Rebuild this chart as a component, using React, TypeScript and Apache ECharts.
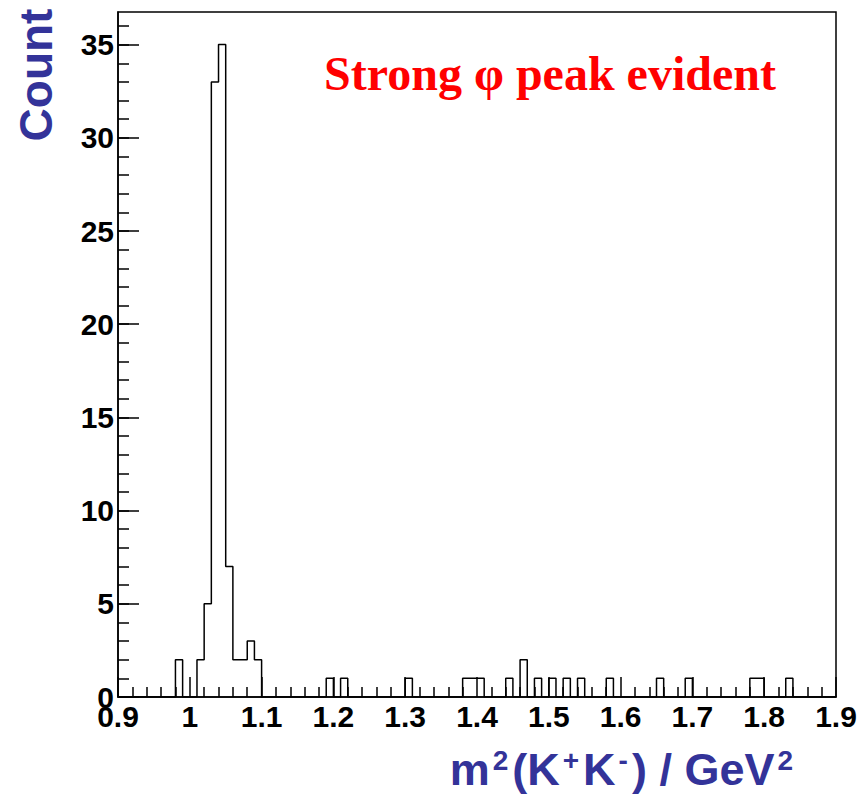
import React, { useEffect, useRef } from "react";
import * as echarts from "echarts";

// Histogram binning
const binStart = 0.9;
const binWidth = 0.01;
const binEnd = 1.9;

// Counts per bin (100 bins of 0.01 from 0.90 to 1.90)
const counts: number[] = [
  // 0.90 - 0.99
  0, 0, 0, 0, 0, 0, 0, 0, 2, 0,
  // 1.00 - 1.09
  0, 2, 5, 33, 35, 7, 2, 2, 3, 2,
  // 1.10 - 1.19
  0, 0, 0, 0, 0, 0, 0, 0, 0, 1,
  // 1.20 - 1.29
  0, 1, 0, 0, 0, 0, 0, 0, 0, 0,
  // 1.30 - 1.39
  1, 0, 0, 0, 0, 0, 0, 0, 1, 1,
  // 1.40 - 1.49
  1, 0, 0, 0, 1, 0, 2, 0, 1, 0,
  // 1.50 - 1.59
  1, 0, 1, 0, 1, 0, 0, 0, 1, 0,
  // 1.60 - 1.69
  0, 0, 0, 0, 0, 1, 0, 0, 0, 1,
  // 1.70 - 1.79
  0, 0, 0, 0, 0, 0, 0, 0, 1, 1,
  // 1.80 - 1.89
  0, 0, 0, 1, 0, 0, 0, 0, 0, 0,
];

// Axis ticks / labels
const yMax = 36.75;
const yMajorTicks = [0, 5, 10, 15, 20, 25, 30, 35];
const yMinorTicks = [
  0, 1, 2, 3, 4, 5, 6, 7, 8, 9, 10, 11, 12, 13, 14, 15, 16, 17, 18, 19, 20,
  21, 22, 23, 24, 25, 26, 27, 28, 29, 30, 31, 32, 33, 34, 35, 36,
];

const annotation = "Strong φ peak evident";
const yTitle = "Count";

export default function App() {
  const ref = useRef<HTMLDivElement>(null);

  useEffect(() => {
    if (!ref.current) return;
    const chart = echarts.init(ref.current, undefined, { renderer: "svg" });

    const stepData: [number, number][] = counts.map((c, i) => [
      +(binStart + i * binWidth).toFixed(4),
      c,
    ]);
    stepData.push([binEnd, counts[counts.length - 1]]);

    const black = "#000";
    const blue = "#333399";
    const lw = 1.5;
    const sans = "Liberation Sans, Arial, sans-serif";
    const labelFont = {
      color: black,
      fontFamily: sans,
      fontWeight: "bold" as const,
      fontSize: 30,
    };

    chart.setOption({
      animation: false,
      backgroundColor: "#fff",
      grid: {
        left: 118,
        right: 32,
        top: 12,
        bottom: 97,
        show: true,
        borderColor: black,
        borderWidth: lw,
        backgroundColor: "transparent",
      },
      xAxis: {
        type: "value",
        min: binStart,
        max: binEnd,
        interval: 0.1,
        axisLine: { show: true, onZero: false, lineStyle: { color: black, width: lw } },
        axisTick: { show: true, inside: true, length: 20, lineStyle: { color: black, width: lw } },
        minorTick: { show: true, splitNumber: 5, length: 10, lineStyle: { color: black, width: lw } },
        splitLine: { show: false },
        minorSplitLine: { show: false },
        axisLabel: {
          ...labelFont,
          margin: 4,
          showMinLabel: true,
          showMaxLabel: true,
          formatter: (v: number) => String(Math.round(v * 10) / 10),
        },
      },
      yAxis: [
        {
          type: "value",
          min: 0,
          max: yMax,
          position: "left",
          axisLine: { show: true, lineStyle: { color: black, width: lw } },
          axisTick: {
            show: true,
            inside: true,
            length: 21,
            customValues: yMajorTicks,
            lineStyle: { color: black, width: lw },
          },
          splitLine: { show: false },
          axisLabel: {
            ...labelFont,
            margin: 4,
            customValues: yMajorTicks,
            formatter: (v: number) => String(v),
          },
        },
        {
          type: "value",
          min: 0,
          max: yMax,
          position: "left",
          offset: 0,
          axisLine: { show: false },
          axisTick: {
            show: true,
            inside: true,
            length: 11,
            customValues: yMinorTicks,
            lineStyle: { color: black, width: lw },
          },
          splitLine: { show: false },
          axisLabel: { show: false },
        },
      ],
      series: [
        {
          type: "line",
          step: "end",
          data: stepData,
          xAxisIndex: 0,
          yAxisIndex: 0,
          symbol: "none",
          lineStyle: { color: black, width: lw },
          silent: true,
        },
      ],
      graphic: [
        {
          type: "text",
          x: 550,
          y: 73,
          style: {
            text: annotation,
            fill: "#ff0000",
            fontFamily: "Liberation Serif, Times New Roman, serif",
            fontWeight: "bold",
            fontSize: 48,
            align: "center",
            verticalAlign: "middle",
          },
        },
        {
          type: "text",
          x: 36,
          y: 75,
          rotation: Math.PI / 2,
          style: {
            text: yTitle,
            fill: blue,
            fontFamily: sans,
            fontWeight: "bold",
            fontSize: 46,
            align: "center",
            verticalAlign: "middle",
          },
        },
        {
          type: "text",
          x: 797,
          y: 769,
          style: {
            text: "{m|m}{s|2}{m|(K}{s|+}{m|K}{s|-}{m|) / GeV}{s|2}",
            fill: blue,
            fontFamily: sans,
            fontWeight: "bold",
            align: "right",
            verticalAlign: "middle",
            rich: {
              m: {
                fill: blue,
                fontFamily: sans,
                fontWeight: "bold",
                fontSize: 45,
                lineHeight: 46,
                verticalAlign: "bottom",
              },
              s: {
                fill: blue,
                fontFamily: sans,
                fontWeight: "bold",
                fontSize: 28,
                lineHeight: 30,
                padding: [0, 4, 0, 3],
                verticalAlign: "top",
              },
            },
          },
        },
      ],
    });

    return () => chart.dispose();
  }, []);

  return (
    <div
      ref={ref}
      style={{ position: "absolute", left: 0, top: 0, width: 868, height: 794 }}
    />
  );
}
